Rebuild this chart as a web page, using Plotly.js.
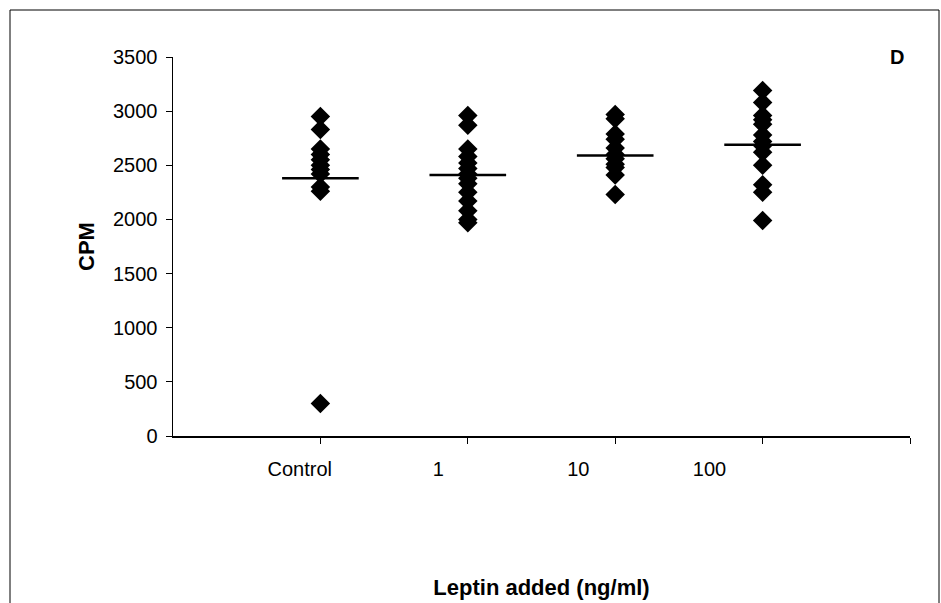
<!DOCTYPE html>
<html>
<head>
<meta charset="utf-8">
<script src="https://cdn.plot.ly/plotly-3.0.1.min.js"></script>
<style>html,body{margin:0;padding:0;background:#fff;}#chart{width:941px;height:603px;}</style>
</head>
<body>
<div id="chart"></div>
<script>
// ---- data ----
const categories = ["Control", "1", "10", "100"];
const controlValues = [2950, 2830, 2650, 2600, 2550, 2500, 2460, 2420, 2300, 2260, 300];
const leptin1Values = [2960, 2870, 2650, 2580, 2520, 2470, 2420, 2380, 2330, 2250, 2170, 2080, 2000, 1970];
const leptin10Values = [2970, 2930, 2790, 2740, 2660, 2600, 2560, 2510, 2480, 2410, 2230];
const leptin100Values = [3190, 3080, 2960, 2920, 2880, 2780, 2720, 2680, 2620, 2500, 2320, 2250, 1990];
const meanValues = [2380, 2410, 2590, 2690];
const yTickValues = [0, 500, 1000, 1500, 2000, 2500, 3000, 3500];

// ---- layout constants ----
const groups = [controlValues, leptin1Values, leptin10Values, leptin100Values];
const labelPos = [0.86, 1.80, 2.75, 3.64];
const halfWidth = 0.26;
const FONT = "Liberation Sans, Arial, sans-serif";

const traces = [];
groups.forEach((vals, i) => {
  traces.push({
    type: "scatter", mode: "markers",
    x: vals.map(() => i + 1), y: vals,
    marker: {symbol: "diamond", size: 15, color: "#000"},
    hoverinfo: "y", showlegend: false
  });
});
meanValues.forEach((m, i) => {
  traces.push({
    type: "scatter", mode: "lines",
    x: [i + 1 - halfWidth, i + 1 + halfWidth], y: [m, m],
    line: {color: "#000", width: 2.5},
    hoverinfo: "skip", showlegend: false
  });
});
// invisible trace to activate label axis
traces.push({type: "scatter", mode: "markers", x: [0], y: [0], xaxis: "x2", yaxis: "y",
  marker: {opacity: 0}, hoverinfo: "skip", showlegend: false});

const layout = {
  width: 941, height: 603,
  margin: {l: 173, r: 31, t: 57, b: 167},
  paper_bgcolor: "#fff", plot_bgcolor: "#fff",
  font: {family: FONT, size: 20, color: "#000"},
  showlegend: false,
  xaxis: {
    range: [0, 5], tickvals: [1, 2, 3, 4, 5], ticktext: ["", "", "", "", ""],
    ticks: "outside", ticklen: 6, tickcolor: "#000", tickwidth: 1,
    showline: true, linecolor: "#000", linewidth: 1.5,
    showgrid: false, zeroline: false, fixedrange: true
  },
  xaxis2: {
    overlaying: "x", anchor: "y", side: "bottom", range: [0, 5],
    tickvals: labelPos, ticktext: categories, ticks: "",
    tickfont: {family: FONT, size: 20, color: "#000"},
    showline: false, showgrid: false, zeroline: false, fixedrange: true,
    ticklabelstandoff: 19,
    title: {text: "<b>Leptin added (ng/ml)</b>", font: {family: FONT, size: 22, color: "#000"}, standoff: 100}
  },
  yaxis: {
    range: [0, 3500], tickvals: yTickValues,
    ticks: "outside", ticklen: 6, tickcolor: "#000", tickwidth: 1,
    showline: true, linecolor: "#000", linewidth: 1.5,
    showgrid: false, zeroline: false, fixedrange: true,
    ticklabelstandoff: 4,
    tickfont: {family: FONT, size: 20, color: "#000"},
    title: {text: "<b>CPM</b>", font: {family: FONT, size: 22, color: "#000"}, standoff: 12}
  },
  annotations: [{
    xref: "paper", yref: "paper", x: (897 - 173) / 737, y: 1, xanchor: "center", yanchor: "middle",
    text: "<b>D</b>", showarrow: false, font: {family: FONT, size: 20, color: "#000"}
  }],
  shapes: [{
    type: "rect", xref: "paper", yref: "paper",
    x0: (10 - 173) / 737, x1: (939 - 173) / 737,
    y0: -0.6, y1: (436 - 10) / 379,
    line: {color: "#000", width: 1}, fillcolor: "rgba(0,0,0,0)", layer: "below"
  }]
};

Plotly.newPlot("chart", traces, layout, {displayModeBar: false, staticPlot: true});
</script>
</body>
</html>
